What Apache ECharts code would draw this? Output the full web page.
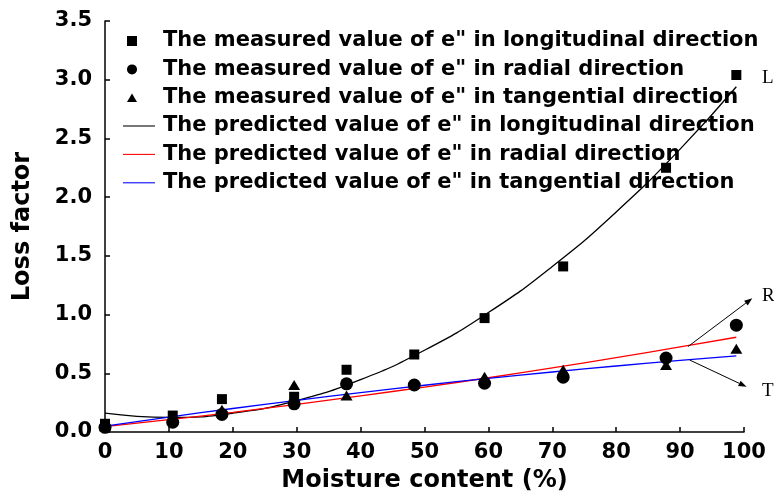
<!DOCTYPE html>
<html>
<head>
<meta charset="utf-8">
<script src="https://cdn.jsdelivr.net/npm/echarts@6/dist/echarts.min.js"></script>
<style>
  html, body { margin: 0; padding: 0; background: #fff; }
  #chart { width: 774px; height: 496px; }
</style>
</head>
<body>
<div id="chart"></div>
<script>
// Measured loss factor (e'') against moisture content, [moisture %, e'']
const measuredL = [[0, 0.07], [10.6, 0.14], [18.3, 0.28], [29.6, 0.30], [37.8, 0.53],
                   [48.4, 0.66], [59.4, 0.97], [71.7, 1.41], [87.8, 2.25], [98.8, 3.04]];
const measuredR = [[0, 0.04], [10.6, 0.083], [18.3, 0.15], [29.6, 0.24], [37.8, 0.41],
                   [48.4, 0.40], [59.4, 0.415], [71.7, 0.466], [87.8, 0.63], [98.8, 0.91]];
const measuredT = [[0, 0.05], [10.6, 0.12], [18.3, 0.19], [29.6, 0.40], [37.8, 0.31],
                   [48.4, 0.41], [59.4, 0.47], [71.7, 0.53], [87.8, 0.57], [98.8, 0.71]];

// Predicted curves, sampled along the moisture axis
const predX = [0, 10, 20, 30, 40, 50, 60, 70, 80, 90, 98.8];
const predL = [0.16, 0.124, 0.16, 0.267, 0.446, 0.696, 1.017, 1.41, 1.874, 2.409, 2.94];
const predR = [0.045, 0.105, 0.168, 0.236, 0.308, 0.383, 0.462, 0.546, 0.633, 0.724, 0.807];
const predT = [0.05, 0.127, 0.200, 0.270, 0.336, 0.398, 0.457, 0.511, 0.562, 0.610, 0.648];

const names = [
  'The measured value of e" in longitudinal direction',
  'The measured value of e" in radial direction',
  'The measured value of e" in tangential direction',
  'The predicted value of e" in longitudinal direction',
  'The predicted value of e" in radial direction',
  'The predicted value of e" in tangential direction'
];

// Direction labels and pointer arrows, in data coordinates
const dirLabels = [
  { text: 'L', at: [102.8, 3.015] },
  { text: 'R', at: [102.8, 1.154] },
  { text: 'T', at: [102.8, 0.345] }
];
const dirArrows = [
  { from: [91.25, 0.728], to: [101.3, 1.139] },
  { from: [91.5, 0.613], to: [100.4, 0.385] }
];

const xTicks = { min: 0, max: 100, interval: 10 };
const yTicks = { min: 0, max: 3.5, interval: 0.5 };

const FONT = '"DejaVu Sans", sans-serif';
const pair = (xs, ys) => xs.map((x, i) => [x, ys[i]]);

const chart = echarts.init(document.getElementById('chart'), null, { renderer: 'canvas' });

const axisCommon = {
  axisLine: { show: true, lineStyle: { color: '#000', width: 1.5 } },
  axisTick: { show: true, inside: true, length: 5, lineStyle: { color: '#000', width: 1.5 } },
  splitLine: { show: false },
  nameTextStyle: { fontFamily: FONT, fontWeight: 'bold', fontSize: 24, color: '#000' }
};

const legendText = (padLeft) => ({
  fontFamily: FONT, fontWeight: 'bold', fontSize: 21, color: '#000', lineHeight: 22,
  padding: [0, 0, 0, padLeft]
});
const lineIcon = 'path://M0,0h30v1h-30z';

chart.setOption({
  animation: false,
  backgroundColor: '#fff',
  grid: { left: 105, right: 30, top: 21, bottom: 64, containLabel: false, outerBoundsMode: 'none' },
  xAxis: Object.assign({}, axisCommon, {
    type: 'value',
    min: xTicks.min, max: xTicks.max, interval: xTicks.interval,
    name: 'Moisture content (%)',
    nameLocation: 'middle',
    nameGap: 37,
    axisLabel: { fontFamily: FONT, fontWeight: 'bold', fontSize: 21, color: '#000', margin: 10 }
  }),
  yAxis: Object.assign({}, axisCommon, {
    type: 'value',
    min: yTicks.min, max: yTicks.max, interval: yTicks.interval,
    name: 'Loss factor',
    nameLocation: 'middle',
    nameGap: 70,
    axisLabel: {
      fontFamily: FONT, fontWeight: 'bold', fontSize: 21, color: '#000', margin: 13,
      formatter: v => v.toFixed(1)
    }
  }),
  legend: [
    {
      orient: 'vertical', left: 127, top: 30, padding: 0,
      itemWidth: 10, itemHeight: 10, itemGap: 6.4,
      textStyle: legendText(21),
      data: [
        { name: names[0], icon: 'path://M0,0h1v1h-1z', itemStyle: { color: '#000', opacity: 1 } },
        { name: names[1], icon: 'circle', itemStyle: { color: '#000', opacity: 1 } },
        { name: names[2], icon: 'path://M0.5,0L1,0.85L0,0.85z', itemStyle: { color: '#000', opacity: 1 } }
      ],
      selectedMode: false
    },
    {
      orient: 'vertical', left: 123, top: 115, padding: 0,
      itemWidth: 32, itemHeight: 10, itemGap: 6.4,
      textStyle: legendText(3),
      data: [
        { name: names[3], icon: lineIcon },
        { name: names[4], icon: lineIcon },
        { name: names[5], icon: lineIcon }
      ],
      selectedMode: false
    }
  ],
  series: [
    { name: names[3], type: 'line', data: pair(predX, predL), smooth: true, symbol: 'none',
      lineStyle: { color: '#000', width: 1.3 }, itemStyle: { color: '#000' }, z: 2 },
    { name: names[4], type: 'line', data: pair(predX, predR), smooth: true, symbol: 'none',
      lineStyle: { color: '#ff0000', width: 1.3 }, itemStyle: { color: '#ff0000' }, z: 2 },
    { name: names[5], type: 'line', data: pair(predX, predT), smooth: true, symbol: 'none',
      lineStyle: { color: '#0000ff', width: 1.3 }, itemStyle: { color: '#0000ff' }, z: 2 },
    { name: names[0], type: 'scatter', data: measuredL, symbol: 'rect', symbolSize: 10,
      itemStyle: { color: '#000', opacity: 1 }, z: 3 },
    { name: names[1], type: 'scatter', data: measuredR, symbol: 'circle', symbolSize: 13,
      itemStyle: { color: '#000', opacity: 1 }, z: 3 },
    { name: names[2], type: 'scatter', data: measuredT, symbol: 'triangle', symbolSize: [12, 10],
      itemStyle: { color: '#000', opacity: 1 }, z: 3 }
  ]
});

// Direction markers drawn on top once the axes are laid out
const toPx = p => chart.convertToPixel({ gridIndex: 0 }, p);
const graphics = [];
dirLabels.forEach(d => {
  const p = toPx(d.at);
  graphics.push({
    type: 'text', x: p[0], y: p[1], z: 10,
    style: { text: d.text, font: '19px "Liberation Serif", "DejaVu Serif", serif',
             fill: '#000', align: 'left', verticalAlign: 'middle' }
  });
});
dirArrows.forEach(a => {
  const p0 = toPx(a.from), p1 = toPx(a.to);
  const dx = p1[0] - p0[0], dy = p1[1] - p0[1];
  const len = Math.hypot(dx, dy), ux = dx / len, uy = dy / len;
  const hl = 8, hw = 3;
  const bx = p1[0] - ux * hl, by = p1[1] - uy * hl;
  graphics.push({
    type: 'line', z: 10,
    shape: { x1: p0[0], y1: p0[1], x2: bx, y2: by },
    style: { stroke: '#000', lineWidth: 1 }
  });
  graphics.push({
    type: 'polygon', z: 10,
    shape: { points: [[p1[0], p1[1]], [bx - uy * hw, by + ux * hw], [bx + uy * hw, by - ux * hw]] },
    style: { fill: '#000' }
  });
});
chart.setOption({ graphic: graphics });
</script>
</body>
</html>
